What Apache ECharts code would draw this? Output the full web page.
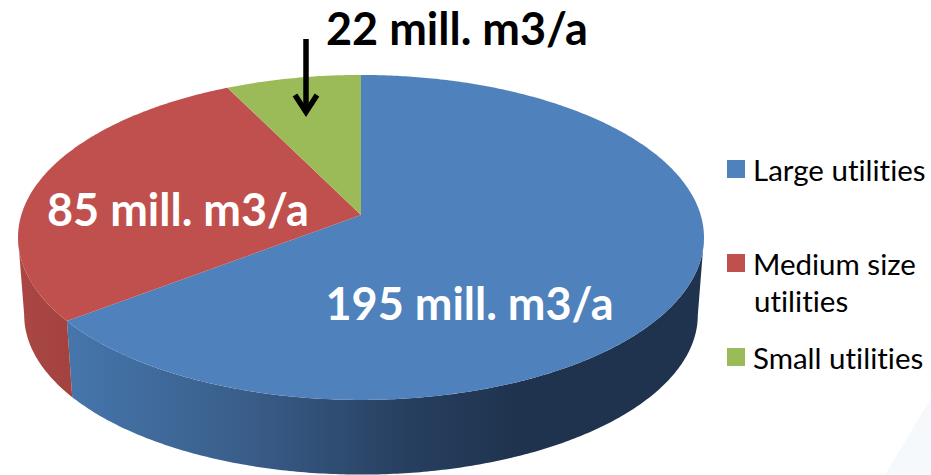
<!DOCTYPE html>
<html>
<head>
<meta charset="utf-8">
<style>html,body{margin:0;padding:0;background:#fff}#c{width:931px;height:475px}#c text{font-variant-ligatures:none !important}</style>
<script src="https://cdn.jsdelivr.net/npm/echarts@6/dist/echarts.min.js"></script>
</head>
<body>
<div id="c"></div>
<script>
const categories = ['Large utilities', 'Medium size utilities', 'Small utilities'];
const values = [195, 85, 22];
const sliceLabels = ['195 mill. m3/a', '85 mill. m3/a', '22 mill. m3/a'];
const colors = ['#4f81bd', '#c0504d', '#9bbb59'];

const FONT = 'Lato, "Open Sans", sans-serif';
// Perspective view of a circular pie
const geo = { cx: 361, cy: 215, rx: 339.7, s: 159.4, k: -0.138, depth: 75, shrink: 0.982 };
const total = values.reduce((a, b) => a + b, 0);

function rim(theta, bottom) {
  const u = Math.sin(theta), v = -Math.cos(theta), d = 1 + geo.k * v;
  const x = geo.rx * u / d, y = geo.s * v / d;
  return bottom
    ? [geo.cx + x * geo.shrink, geo.cy + y * geo.shrink + geo.depth + 3]
    : [geo.cx + x, geo.cy + y];
}
function arc(a0, a1, bottom) {
  const n = Math.max(2, Math.ceil((a1 - a0) / 0.01)), pts = [];
  for (let i = 0; i <= n; i++) pts.push(rim(a0 + (a1 - a0) * i / n, bottom));
  return pts;
}
// Angles where the rim reaches its right-most and left-most points (silhouette of the side wall)
let thetaR = 0, thetaL = 0;
for (let t = 0; t < 2 * Math.PI; t += 0.002) {
  if (rim(t)[0] > rim(thetaR)[0]) thetaR = t;
  if (rim(t)[0] < rim(thetaL)[0]) thetaL = t;
}
const wallFills = [
  new echarts.graphic.LinearGradient(67, 0, 520, 0, [
    { offset: 0, color: '#4676ac' }, { offset: 0.4, color: '#395d89' },
    { offset: 0.75, color: '#273f5f' }, { offset: 1, color: '#1f334e' }], true),
  new echarts.graphic.LinearGradient(20, 0, 72, 0, [
    { offset: 0, color: '#aa4744' }, { offset: 1, color: '#a2423e' }], true),
  '#7d9848'
];
const labelPos = [[469.5, 303], [178, 209], [457, 27.5]];
const labelColor = ['#fff', '#fff', '#000'];

function makeRender(idx) {
  return function () {
    let start = 0;
    for (let i = 0; i < idx; i++) start += values[i] / total * 2 * Math.PI;
    const end = start + values[idx] / total * 2 * Math.PI;
    const top = arc(start, end, false);
    const children = [
      { type: 'polygon', z2: 2, shape: { points: [[geo.cx, geo.cy]].concat(top) }, style: { fill: colors[idx] } },
      { type: 'text', z2: 5, style: {
          x: labelPos[idx][0], y: labelPos[idx][1], text: sliceLabels[idx],
          align: 'center', verticalAlign: 'middle',
          fill: labelColor[idx], font: 'bold 45px ' + FONT } }
    ];
    const w0 = Math.max(start, thetaR), w1 = Math.min(end, thetaL);
    if (w1 > w0) {
      children.unshift({ type: 'polygon', z2: 1,
        shape: { points: arc(w0, w1, false).concat(arc(w0, w1, true).reverse()) },
        style: { fill: wallFills[idx] } });
    }
    return { type: 'group', children };
  };
}

const legendTops = [154, 248, 342];
const chart = echarts.init(document.getElementById('c'), null, { renderer: 'svg' });
chart.setOption({
  animation: false,
  backgroundColor: '#fff',
  legend: categories.map((c, i) => ({
    data: [c], left: 727, top: legendTops[i], padding: 0, orient: 'vertical',
    icon: 'rect', itemWidth: 18, itemHeight: 18,
    formatter: n => n.replace(' utilities', c.startsWith('Medium') ? '' : ' utilities'),
    textStyle: { fontFamily: FONT, fontSize: 29.5, color: '#000', padding: [0, 0, 2, 3] }
  })),
  series: categories.map((c, i) => ({
    type: 'custom', name: c, coordinateSystem: 'none', silent: true,
    itemStyle: { color: colors[i] }, data: [[values[i]]],
    renderItem: makeRender(i)
  })),
  graphic: [
    { type: 'polygon', z: -1, shape: { points: [[885, 475], [931, 398], [931, 475]] }, style: { fill: '#f6f9fc' } },
    { type: 'text', style: { x: 754, y: 300.5, text: 'utilities', fill: '#000', verticalAlign: 'middle', font: '29.5px ' + FONT } },
    { type: 'line', z: 20, shape: { x1: 306, y1: 39, x2: 306, y2: 110 }, style: { stroke: '#000', lineWidth: 5.5 } },
    { type: 'polyline', z: 20, shape: { points: [[295, 95], [306, 112], [317, 95]] }, style: { stroke: '#000', lineWidth: 5.5, fill: null } }
  ]
});
</script>
</body>
</html>
